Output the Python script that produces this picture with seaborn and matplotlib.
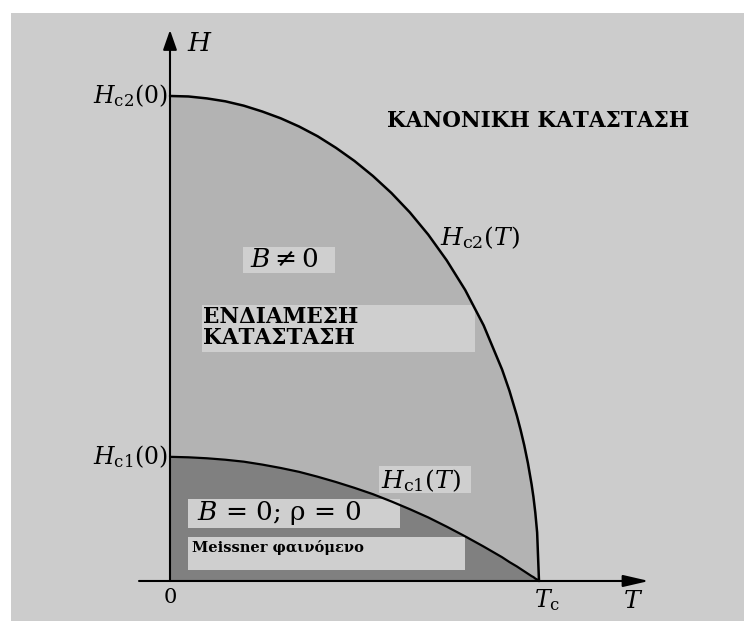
import matplotlib
matplotlib.use("Agg")
import matplotlib.pyplot as plt
from matplotlib.patches import Rectangle
import seaborn as sns

sns.set_theme(style="white")
plt.rcParams["font.family"] = ["DejaVu Serif"]
plt.rcParams["mathtext.fontset"] = "dejavuserif"
plt.rcParams["text.color"] = "black"

# Reduced temperature T/Tc and the two critical fields (in units of Hc2(0))
t_values = [0.0, 0.05, 0.1, 0.15, 0.2, 0.25, 0.3, 0.35, 0.4, 0.45, 0.5, 0.55,
            0.6, 0.65, 0.7, 0.75, 0.8, 0.85, 0.9, 0.92, 0.94, 0.95, 0.96,
            0.97, 0.98, 0.985, 0.99, 0.995, 1.0]
hc2_values = [1.000, 0.999, 0.995, 0.989, 0.980, 0.968, 0.954, 0.937, 0.917,
              0.893, 0.866, 0.835, 0.800, 0.760, 0.714, 0.661, 0.600, 0.527,
              0.436, 0.392, 0.341, 0.312, 0.280, 0.243, 0.199, 0.173, 0.141,
              0.100, 0.0]
hc1_values = [0.256, 0.255, 0.253, 0.250, 0.246, 0.240, 0.233, 0.225, 0.215,
              0.204, 0.192, 0.179, 0.164, 0.148, 0.131, 0.112, 0.092, 0.071,
              0.049, 0.039, 0.030, 0.025, 0.020, 0.015, 0.010, 0.008, 0.005,
              0.003, 0.0]

axis_labels = ["$H$", "$T$"]
tick_labels = ["0", "$T_{\\mathrm{c}}$",
               "$H_{\\mathrm{c2}}(0)$", "$H_{\\mathrm{c1}}(0)$"]
curve_labels = ["$H_{\\mathrm{c2}}(T)$", "$H_{\\mathrm{c1}}(T)$"]
region_labels = ["ΚΑΝΟΝΙΚΗ ΚΑΤΑΣΤΑΣΗ", "ΕΝΔΙΑΜΕΣΗ\nΚΑΤΑΣΤΑΣΗ",
                 "$B \\neq 0$", "$B$ = 0; ρ = 0", "Meissner φαινόμενο"]

BG = "#cccccc"
MIXED = "#b3b3b3"
MEISSNER = "#808080"
BOX = "#cfcfcf"

W, H = 744, 621
fig = plt.figure(figsize=(W / 100, H / 100), dpi=100, facecolor="white")
ax = fig.add_axes([11 / W, 0, (W - 11) / W, (H - 13) / H])
ax.set_facecolor(BG)
for s in ax.spines.values():
    s.set_visible(False)
ax.set_xticks([])
ax.set_yticks([])
ax.set_xlim(-0.4309, 1.5556)
ax.set_ylim(-0.0825, 1.1711)

# phase regions
ax.fill_between(t_values, hc1_values, hc2_values, color=MIXED, lw=0, zorder=1)
ax.fill_between(t_values, 0, hc1_values, color=MEISSNER, lw=0, zorder=1)

# label boxes
boxes = [
    (0.198, 0.635, 0.249, 0.054),   # B != 0
    (0.0867, 0.472, 0.740, 0.097),  # intermediate state
    (0.566, 0.181, 0.250, 0.056),   # Hc1(T)
    (0.0488, 0.109, 0.574, 0.060),  # B = 0; rho = 0
    (0.0488, 0.0227, 0.750, 0.068), # Meissner
]
for x0, y0, w, h in boxes:
    ax.add_patch(Rectangle((x0, y0), w, h, facecolor=BOX, edgecolor="none",
                           zorder=2))

# critical field curves
sns.lineplot(x=t_values, y=hc2_values, ax=ax, color="black", lw=1.8,
             sort=False, estimator=None, zorder=3)
sns.lineplot(x=t_values, y=hc1_values, ax=ax, color="black", lw=1.6,
             sort=False, estimator=None, zorder=3)

# axes with arrows
ax.annotate("", xy=(0, 1.136), xytext=(0, 0),
            arrowprops=dict(arrowstyle="-|>,head_length=1.0,head_width=0.35",
                            mutation_scale=12, lw=1.5, color="black",
                            shrinkA=0, shrinkB=0), zorder=4)
ax.annotate("", xy=(1.298, 0), xytext=(-0.084, 0),
            arrowprops=dict(arrowstyle="-|>,head_length=1.3,head_width=0.3",
                            mutation_scale=12, lw=1.5, color="black",
                            shrinkA=0, shrinkB=0), zorder=4)

# axis labels and ticks
ax.text(0.046, 1.109, axis_labels[0], fontsize=19, ha="left", va="center")
ax.text(1.255, -0.043, axis_labels[1], fontsize=18, ha="center", va="center")
ax.text(0.0, -0.035, tick_labels[0], fontsize=15, ha="center", va="center")
ax.text(1.022, -0.040, tick_labels[1], fontsize=17, ha="center", va="center")
ax.text(-0.006, 1.0, tick_labels[2], fontsize=17, ha="right", va="center")
ax.text(-0.006, 0.256, tick_labels[3], fontsize=17, ha="right", va="center")

# curve labels
ax.text(0.732, 0.709, curve_labels[0], fontsize=18, ha="left", va="center",
        zorder=5)
ax.text(0.572, 0.208, curve_labels[1], fontsize=18, ha="left", va="center",
        zorder=5)

# region labels
ax.text(0.588, 0.948, region_labels[0], fontsize=15.5, fontweight="bold",
        ha="left", va="center")
ax.text(0.0894, 0.522, region_labels[1], fontsize=15.5, fontweight="bold",
        ha="left", va="center", linespacing=0.95, zorder=5)
ax.text(0.217, 0.662, region_labels[2], fontsize=19, ha="left", va="center",
        zorder=5)
ax.text(0.073, 0.140, region_labels[3], fontsize=19, ha="left", va="center",
        zorder=5)
ax.text(0.0596, 0.070, region_labels[4], fontsize=10.5, fontweight="bold",
        ha="left", va="center", zorder=5)

fig.savefig("out.png", dpi=100, facecolor="white")
